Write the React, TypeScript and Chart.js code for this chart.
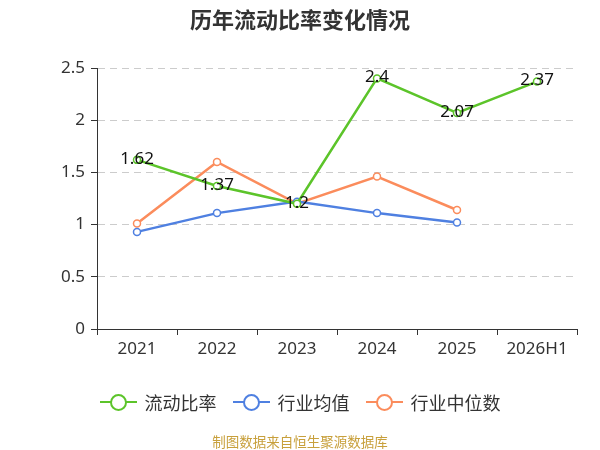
import { useEffect, useRef } from 'react'
import { Chart, registerables } from 'chart.js'

Chart.register(...registerables)

const YEARS = ['2021', '2022', '2023', '2024', '2025', '2026H1']
const CURRENT_RATIO = [1.62, 1.37, 1.2, 2.4, 2.07, 2.37]
const INDUSTRY_AVG = [0.93, 1.11, 1.22, 1.11, 1.02, null]
const INDUSTRY_MEDIAN = [1.01, 1.6, 1.2, 1.46, 1.14, null]

const FONT = '"Noto Sans", "Noto Sans CJK SC", sans-serif'
const GREEN = '#5cc42a'
const BLUE = '#4f80e1'
const ORANGE = '#fb8c5c'

const LEGEND = [
  { label: '流动比率', color: GREEN },
  { label: '行业均值', color: BLUE },
  { label: '行业中位数', color: ORANGE },
]

// draws the value labels of the first series on top of its points
const valueLabels = {
  id: 'valueLabels',
  afterDatasetsDraw(chart: Chart) {
    const meta = chart.getDatasetMeta(0)
    const ctx = chart.ctx
    ctx.save()
    ctx.font = `17px ${FONT}`
    ctx.fillStyle = '#111'
    ctx.textAlign = 'center'
    ctx.textBaseline = 'middle'
    meta.data.forEach((pt, i) => {
      ctx.fillText(String(CURRENT_RATIO[i]), pt.x, pt.y - 1)
    })
    ctx.restore()
  },
}

function line(label: string, data: (number | null)[], color: string) {
  return {
    label,
    data,
    borderColor: color,
    backgroundColor: '#fff',
    borderWidth: 2.5,
    pointRadius: 3.5,
    pointBorderWidth: 1.5,
    pointBackgroundColor: '#fff',
    pointBorderColor: color,
    tension: 0,
  }
}

export default function App() {
  const ref = useRef<HTMLCanvasElement>(null)
  const chart = useRef<Chart | null>(null)

  useEffect(() => {
    document.body.style.margin = '0'
    if (!ref.current) return
    chart.current?.destroy()
    chart.current = new Chart(ref.current, {
      type: 'line',
      data: {
        labels: YEARS,
        datasets: [
          line('流动比率', CURRENT_RATIO, GREEN),
          line('行业均值', INDUSTRY_AVG, BLUE),
          line('行业中位数', INDUSTRY_MEDIAN, ORANGE),
        ],
      },
      options: {
        responsive: false,
        animation: false,
        layout: { padding: { top: 68, right: 23, left: 0, bottom: 0 } },
        plugins: { legend: { display: false }, tooltip: { enabled: false } },
        scales: {
          x: {
            offset: true,
            afterFit: (s: any) => { s.height = 121 },
            grid: { offset: true, drawOnChartArea: false, tickLength: 6, tickColor: '#333', tickWidth: 1 },
            border: { color: '#333', width: 1 },
            ticks: { color: '#333', font: { size: 17, family: FONT }, padding: 4 },
          },
          y: {
            min: 0,
            max: 2.5,
            afterFit: (s: any) => { s.width = 97 },
            grid: { color: '#cccccc', tickColor: '#333', tickLength: 6, tickBorderDash: [], lineWidth: 1 },
            border: { color: '#333', width: 1, dash: [7, 5] },
            ticks: {
              stepSize: 0.5,
              color: '#333',
              font: { size: 17, family: FONT },
              padding: 6,
              callback: (v: any) => String(v),
            },
          },
        },
      },
      plugins: [valueLabels],
    })
    return () => chart.current?.destroy()
  }, [])

  return (
    <div style={{ position: 'relative', width: 600, height: 450, fontFamily: FONT, background: '#fff' }}>
      <canvas ref={ref} width={600} height={450} style={{ position: 'absolute', left: 0, top: 0 }} />
      <div style={{ position: 'absolute', top: 2, left: 0, width: 600, textAlign: 'center', fontSize: 22, fontWeight: 'bold', color: '#333' }}>
        历年流动比率变化情况
      </div>
      <div style={{ position: 'absolute', top: 389, left: 0, width: 600, display: 'flex', justifyContent: 'center', gap: 16 }}>
        {LEGEND.map((l) => (
          <span key={l.label} style={{ display: 'flex', alignItems: 'center', fontSize: 18, color: '#333' }}>
            <span style={{ position: 'relative', width: 37, height: 26, marginRight: 8 }}>
              <span style={{ position: 'absolute', left: 0, top: 12, width: 37, height: 2, background: l.color }} />
              <span style={{ position: 'absolute', left: 10, top: 5, width: 13, height: 13, borderRadius: '50%', border: `2px solid ${l.color}`, background: '#fff' }} />
            </span>
            {l.label}
          </span>
        ))}
      </div>
      <div style={{ position: 'absolute', top: 431, left: 0, width: 600, textAlign: 'center', fontSize: 13.5, color: '#c8a03c' }}>
        制图数据来自恒生聚源数据库
      </div>
    </div>
  )
}
